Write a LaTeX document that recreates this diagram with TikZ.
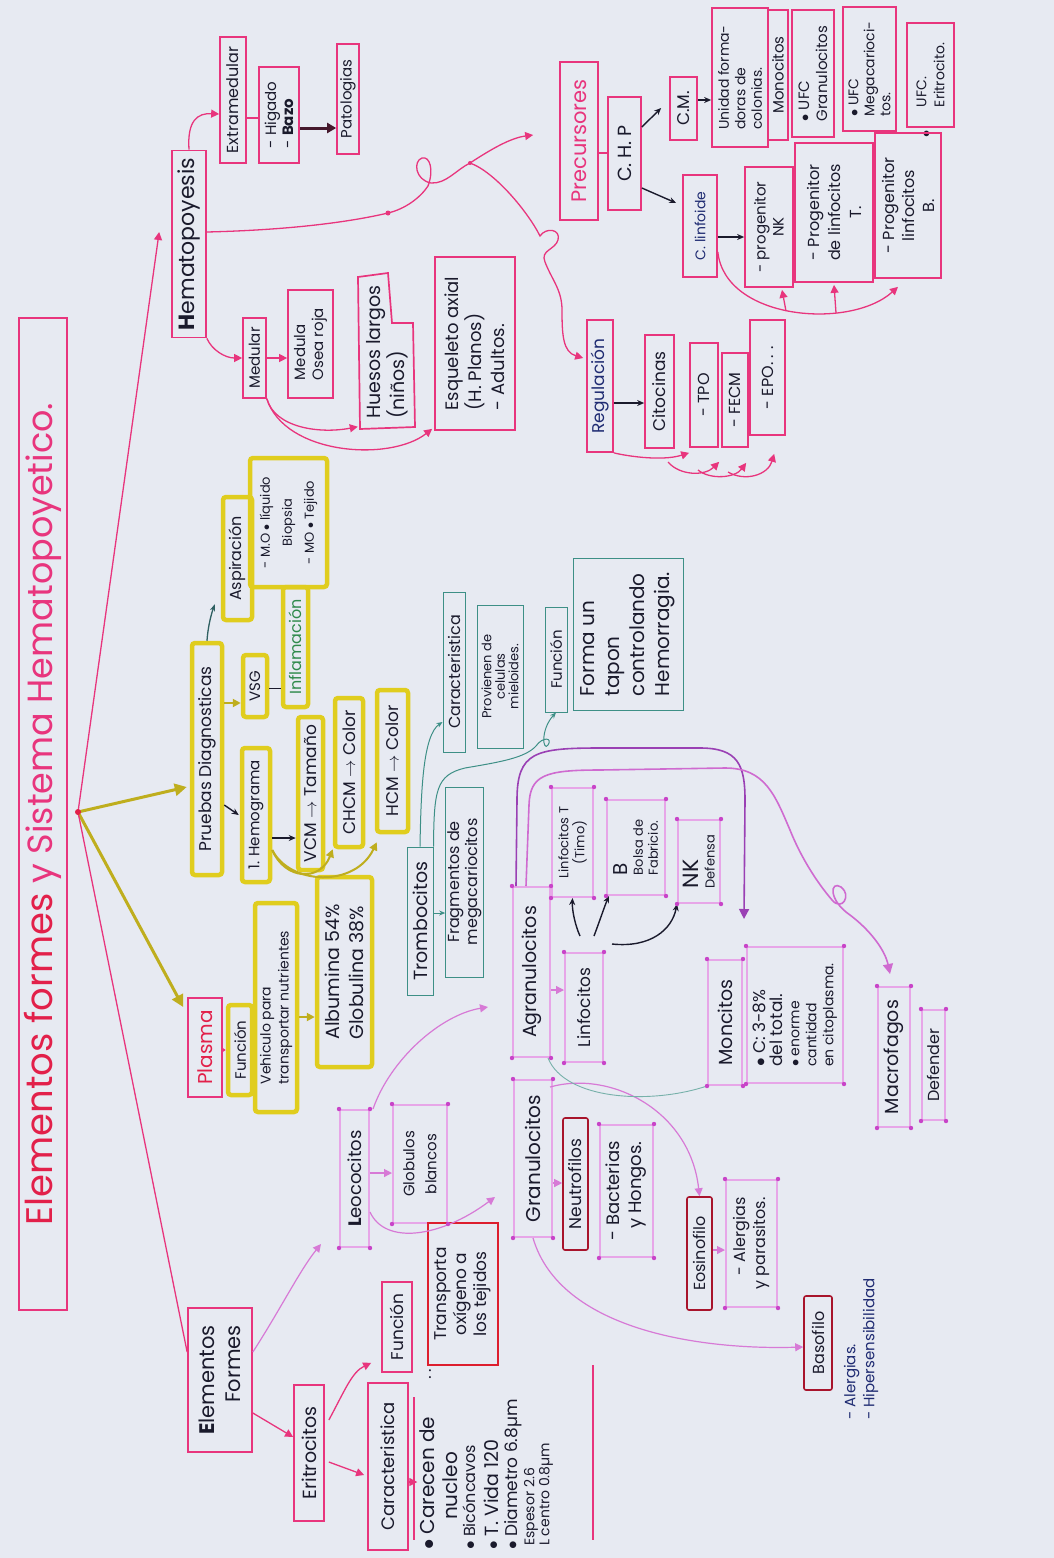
\documentclass[tikz,border=0pt]{standalone}
\usepackage{fontspec}
\setmainfont{Poppins}
\usetikzlibrary{arrows.meta,calc}
\definecolor{bgc}{HTML}{E7EAF2}
\definecolor{pinkc}{HTML}{E8357D}
\definecolor{titred}{HTML}{E2204A}
\definecolor{redc}{HTML}{DD1E2E}
\definecolor{dredc}{HTML}{A8142C}
\definecolor{yelc}{HTML}{E0CD1E}
\definecolor{olivec}{HTML}{BFAE1E}
\definecolor{tealc}{HTML}{3D8F86}
\definecolor{lavc}{HTML}{E7A6E8}
\definecolor{lavd}{HTML}{D77AD6}
\definecolor{dotc}{HTML}{C844C8}
\definecolor{purc}{HTML}{9A40B4}
\definecolor{violc}{HTML}{CF6BD0}
\definecolor{inkc}{HTML}{1A1A2C}
\definecolor{bluec}{HTML}{1F2B72}
\definecolor{greenc}{HTML}{2F8A4C}
\newcommand{\fz}[2]{\fontsize{#1}{#2}\selectfont}
\tikzset{
 every node/.style={rotate=90, text=inkc, inner sep=2pt, align=center, font=\fz{16}{19}},
 sz/.style 2 args={minimum width=#1pt, minimum height=#2pt},
 pbox/.style={draw=pinkc, line width=1.7pt},
 ybox/.style={draw=yelc, line width=4.5pt, rounded corners=3pt},
 tbox/.style={draw=tealc, line width=1pt},
 lbox/.style={draw=lavc, line width=2pt},
 rbox/.style={draw=dredc, line width=1.6pt, rounded corners=2pt},
 linkp/.style={draw=pinkc, line width=1.3pt},
 arrp/.style={linkp, -{Triangle[length=8pt,width=8pt]}},
 arry/.style={draw=olivec, line width=3pt, -{Triangle[length=12pt,width=12pt]}},
 arrys/.style={draw=olivec, line width=2pt, -{Triangle[length=8pt,width=8pt]}},
 arrb/.style={draw=inkc, line width=1.4pt, -{Stealth[length=7pt,width=6pt]}},
 arrt/.style={draw=tealc, line width=1pt, -{Stealth[length=6pt,width=5pt]}},
 arrl/.style={draw=lavd, line width=1.2pt, -{Triangle[length=8pt,width=8pt]}},
 arru/.style={draw=purc, line width=1.6pt, -{Triangle[length=10pt,width=10pt]}},
 arrv/.style={draw=violc, line width=1.6pt, -{Triangle[length=10pt,width=10pt]}},
}
\begin{document}
\begin{tikzpicture}[x=1pt,y=-1pt]
\fill[bgc] (0,0) rectangle (1054,1558);
\useasboundingbox (0,0) rectangle (1054,1558);

% ---------- title ----------
\node[draw=pinkc,line width=1.3pt,sz={992}{48}] (title) at (43,814)
 {{\fz{37}{44}\color{titred}Elementos formes }{\fz{35}{44}\color{pinkc}y Sistema Hematopoyetico.}};
\coordinate (root) at (78,812);

% ---------- Hematopoyesis ----------
\node[pbox,sz={187}{34},font=\fz{22}{26}] (hemato) at (189,244) {\textbf{H}ematopoyesis};
\node[pbox,sz={126}{26},font=\fz{16}{19}] (extra) at (233,100) {Extramedular};
\node[pbox,sz={96}{40},font=\fz{15}{17},align=left] (higado) at (279,115) {- Higado\\- \textbf{Bazo}};
\node[pbox,sz={110}{22},font=\fz{15}{18}] (patol) at (348,99) {Patologias};
\node[pbox,sz={80}{23},font=\fz{15}{18}] (medular) at (254.5,358) {Medular};
\node[pbox,sz={108}{45},font=\fz{15}{18},align=left] (medosea) at (310.5,344) {Medula\\Osea roja};
\node[sz={155}{54},font=\fz{19}{22},align=left] (huesos) at (387,352) {Huesos largos\\(niños)};
\draw[pinkc,line width=1.7pt] (358,277) -- (388,273) -- (392,323) -- (413,323) -- (415,427) -- (360,429) -- cycle;
\node[pbox,sz={173}{80},font=\fz{18}{23},align=left] (esq) at (475,343.5) {Esqueleto axial\\(H. Planos)\\- Adultos.};

% ---------- Precursores ----------
\node[pbox,sz={158}{38},font=\fz{21}{24},text=pinkc] (prec) at (579,141) {Precursores};
\node[pbox,sz={113}{33},font=\fz{19}{22}] (chp) at (624.5,153.5) {C. H. P};
\node[pbox,sz={63}{27},font=\fz{17}{20}] (cmn) at (683.5,108.5) {C.M.};
\node[pbox,sz={139}{56},font=\fz{14}{16.5},align=left] (unidad) at (740,77.5) {Unidad forma-\\doras de\\colonias.};
\node[pbox,sz={130}{20},font=\fz{15}{17}] (monoc) at (778,75) {Monocitos};
\node[pbox,sz={127}{42},font=\fz{15}{18},align=left] (ufcg) at (813,73.5) {$\bullet$ UFC\\Granulocitos};
\node[pbox,sz={124}{53},font=\fz{14}{16},align=left] (ufcm) at (869.5,69) {$\bullet$ UFC\\Megacarioci-\\tos.};
\node[pbox,sz={104}{47},font=\fz{14}{18},align=left] (ufce) at (930.5,75) {UFC.\\Eritrocito.};
\node[font=\fz{15}{18}] (ufcebul) at (927,134) {$\bullet$};
\node[pbox,sz={102}{34},font=\fz{14}{17},text=bluec] (clinf) at (700,226) {C. linfoide};
\node[pbox,sz={120}{48},font=\fz{15}{18}] (progNK) at (769,227) {- progenitor\\NK};
\node[pbox,sz={139}{78},font=\fz{16}{21}] (progT) at (834,212.5) {- Progenitor\\de linfocitos\\T.};
\node[pbox,sz={145}{66},font=\fz{16}{20}] (progB) at (908,205.5) {- Progenitor\\linfocitos\\B.};

% ---------- Regulacion ----------
\node[pbox,sz={132}{26},font=\fz{17}{20},text=bluec] (regul) at (600,386) {Regulación};
\node[pbox,sz={113}{29},font=\fz{17}{20}] (citoc) at (659.5,391.5) {Citocinas};
\node[pbox,sz={104}{28},font=\fz{16}{19}] (tpo) at (704,395) {- TPO};
\node[pbox,sz={94}{26},font=\fz{16}{19}] (fecm) at (735,400) {- FECM};
\node[pbox,sz={115}{35},font=\fz{16}{19}] (epo) at (767.5,377.5) {- EPO. . .};

% ---------- Pruebas ----------
\node[ybox,sz={232}{30},font=\fz{17}{20}] (pruebas) at (207,759) {Pruebas Diagnosticas};
\node[ybox,sz={62}{24},font=\fz{15}{18}] (vsg) at (255,686) {VSG};
\node[ybox,sz={120}{25},font=\fz{16}{19},text=greenc] (infl) at (295.5,647) {Inflamación};
\node[ybox,sz={123}{29},font=\fz{16}{19}] (aspir) at (237.5,558.5) {Aspiración};
\node[ybox,sz={129}{77},font=\fz{13}{22}] (mobox) at (288.5,522.5) {- M.O $\bullet$ líquido\\Biopsia\\- MO $\bullet$ Tejido};
\node[ybox,sz={134}{28},font=\fz{15}{18}] (hemog) at (256,815) {1. Hemograma};
\node[ybox,sz={153}{25},font=\fz{17}{19}] (vcm) at (310.5,793.5) {VCM $\rightarrow$ Tamaño};
\node[ybox,sz={149}{28},font=\fz{17}{19}] (chcm) at (349,772.5) {CHCM $\rightarrow$ Color};
\node[ybox,sz={142}{31},font=\fz{17}{19}] (hcm) at (392.5,761) {HCM $\rightarrow$ Color};

% ---------- Plasma ----------
\node[draw=pinkc,line width=1.7pt,sz={99}{34},font=\fz{20}{23},text=titred] (plasma) at (205,1047.5) {Plasma};
\node[ybox,sz={90}{24},font=\fz{15}{18}] (funcp) at (240,1050) {Función};
\node[ybox,sz={209}{42},font=\fz{14}{18},align=left] (vehic) at (276,1007.5) {Vehiculo para\\transportar nutrientes};
\node[ybox,sz={190}{55},font=\fz{19}{24},align=left] (album) at (344.5,972) {Albumina 54\%\\Globulina 38\%};

% ---------- Trombocitos ----------
\node[tbox,sz={148}{26},font=\fz{19}{22}] (tromb) at (420,921) {Trombocitos};
\node[tbox,sz={190}{35},font=\fz{16}{16}] (fragm) at (464.5,882) {Fragmentos de\\megacariocitos};
\node[tbox,sz={160}{22},font=\fz{16}{18}] (caracT) at (454,672) {Caracteristica};
\node[tbox,sz={143}{46},font=\fz{13}{13.5}] (provien) at (500,676.5) {Provienen de\\celulas\\mieloides.};
\node[tbox,sz={105}{22},font=\fz{15}{18}] (funct) at (556,659.5) {Función};
\node[tbox,sz={152}{110},font=\fz{20}{25},align=left] (forma) at (628,634) {Forma un\\tapon\\controlando\\Hemorragia.};

% ---------- Leucocitos ----------
\node[lbox,sz={137}{29},font=\fz{18}{21}] (leuco) at (354.5,1178.5) {\textbf{L}eococitos};
\node[lbox,sz={118}{54},font=\fz{15}{22}] (globul) at (420,1164) {Globulos\\blancos};
\node[lbox,sz={157}{38},font=\fz{20}{23}] (granul) at (533,1158.5) {Granulocitos};
\node[rbox,sz={132}{25},font=\fz{17}{20}] (neutro) at (575.5,1184) {Neutrofilos};
\node[lbox,sz={132}{53},font=\fz{18}{22},align=right] (bacter) at (626.5,1191) {- Bacterias\\y Hongos.};
\node[rbox,sz={113}{25},font=\fz{16}{19}] (eosino) at (699.5,1253.5) {Eosinofilo};
\node[lbox,sz={127}{51},font=\fz{16}{20},align=right] (alerg) at (751.5,1243.5) {- Alergias\\y parasitos.};
\node[rbox,sz={94}{28},font=\fz{16}{19}] (basof) at (818,1343) {Basofilo};
\node[anchor=west,font=\fz{15}{19},align=left,text=bluec] (basotxt) at (861,1422) {- Alergias.\\- Hipersensibilidad};
\node[lbox,sz={170}{37},font=\fz{19}{22}] (agran) at (531.5,972) {Agranulocitos};
\node[lbox,sz={109}{38},font=\fz{17}{21}] (linfo) at (584,1007.5) {Linfocitos};
\node[lbox,sz={109}{41},font=\fz{13}{16}] (lt) at (572.5,842.5) {Linfocitos T\\(Timo)};
\node[lbox,sz={95}{58},font=\fz{13}{15},align=left] (lb) at (636,847.5) {{\fz{20}{20}B}\\Bolsa de\\Fabricio.};
\node[lbox,sz={83}{42},font=\fz{13}{16},align=left] (lnk) at (699,861.5) {{\fz{22}{22}NK}\\Defensa};
\node[lbox,sz={125}{34},font=\fz{19}{22}] (mono) at (725,1022.5) {Moncitos};
\node[lbox,sz={136}{96},font=\fz{14}{17},align=left] (monoinfo) at (795,1015) {{\fz{17}{19}$\bullet$ C: 3-8\%}\\{\fz{17}{19}del total.}\\$\bullet$ enorme\\cantidad\\en citoplasma.};
\node[lbox,sz={140}{32},font=\fz{19}{22}] (macro) at (894,1057) {Macrofagos};
\node[lbox,sz={110}{23},font=\fz{16}{18}] (defen) at (933.5,1065) {Defender};

% ---------- Elementos formes ----------
\node[pbox,sz={144}{64},font=\fz{21}{26},align=right] (elem) at (220,1380) {\textbf{E}lementos\\Formes};
\node[pbox,sz={136}{30},font=\fz{19}{22}] (eritro) at (309,1453) {Eritrocitos};
\node[pbox,sz={167}{40},font=\fz{18}{22}] (caract) at (388,1466.5) {Caracteristica};
\node[pbox,sz={90}{30},font=\fz{17}{20}] (funce) at (397,1327) {Función};
\node[draw=redc,line width=2.4pt,sz={142}{70},font=\fz{17}{20}] (transp) at (463,1294) {Transporta\\oxígeno a\\los tejidos};
\node[rotate=-90,font=\fz{16}{16}] (colon) at (430,1374) {:};
\node[anchor=west,font=\fz{20}{22}] (l1) at (427,1552) {$\bullet$ Carecen de};
\node[anchor=west,font=\fz{20}{22}] (l2) at (450,1522) {nucleo};
\node[anchor=west,font=\fz{16}{18}] (l3) at (469,1552) {$\bullet$ Bicóncavos};
\node[anchor=west,font=\fz{19}{21}] (l4) at (491,1552) {$\bullet$ T. Vida 120};
\node[anchor=west,font=\fz{17}{19}] (l5) at (513,1552) {$\bullet$ Diametro 6.8µm};
\node[anchor=west,font=\fz{14}{15}] (l6) at (531,1548) {Espesor 2.6};
\node[anchor=west,font=\fz{14}{15}] (l7) at (546,1548) {L centro 0.8µm};
\draw[pinkc,line width=1.4pt] (414,1397) -- (414,1540);
\draw[pinkc,line width=1.4pt] (593,1365) -- (593,1540);

% ---------- connectors from root ----------
\draw[arrp] (root) -- ($(hemato.north |- 0,232)+(-12,0)$);
\draw[arry] (root) -- ($(pruebas.north |- 0,787)+(-3,0)$);
\draw[arry] (root) -- ($(plasma.north |- 0,1007)+(-4,0)$);
\draw[linkp] (root) -- (elem.north |- 0,1352);
\fill[titred] (root) circle (3pt);

% ---------- hematopoyesis connectors ----------
\draw[arrp] (hemato.east) .. controls (187,120) and (198,113) .. (extra.north |- 0,114);
\draw[linkp] (extra.south |- 0,118) -- (higado.north |- 0,118);
\draw[draw=inkc!70!dredc, line width=3pt, -{Triangle[length=9pt,width=10pt]}] (higado.south |- 0,128) -- (patol.north |- 0,128);
\draw[arrp] (hemato.south west) .. controls (212,350) and (225,358) .. (medular.north |- 0,358);
\draw[arrp] (medular.south |- 0,358) -- (medosea.north |- 0,358);
\draw[arrp] (medular.south west) .. controls (275,428) and (320,434) .. ($(huesos.north west)+(-2,-3)$);
\draw[arrp] (medular.south west) .. controls (285,455) and (390,462) .. ($(esq.north west)+(-2,-2)$);
\coordinate (hj) at (470,163);
\draw[linkp] (hemato.south |- 0,232) .. controls (290,230) and (350,222) .. (388,213)
  .. controls (405,209) and (420,198) .. (428,186)
  .. controls (434,170) and (430,156) .. (422,158)
  .. controls (413,161) and (415,180) .. (431,183)
  .. controls (446,184) and (456,170) .. (hj);
\draw[arrp] (hj) .. controls (490,150) and (510,138) .. ($(prec.north |- 0,135)+(-26,0)$);
\draw[arrp] (hj) .. controls (495,172) and (528,212) .. (540,236)
  .. controls (546,227) and (561,229) .. (558,240)
  .. controls (555,250) and (540,250) .. (545,262)
  .. controls (552,280) and (562,290) .. (562,310)
  .. controls (562,335) and (563,352) .. ($(regul.north |- 0,358)+(-3,0)$);
\fill[pinkc] (388,213) circle (2.5pt);
\fill[pinkc] (hj) circle (2pt);

% ---------- precursores connectors ----------
\draw[linkp] (prec.south |- 0,153) -- (chp.north |- 0,153);
\draw[arrb] (chp.south |- 0,127) -- ($(cmn.north |- 0,108)+(-8,0)$);
\draw[arrb] (chp.south |- 0,188) -- ($(clinf.north |- 0,203)+(-6,0)$);
\draw[arrb] (cmn.south |- 0,100) -- (unidad.north |- 0,100);
\draw[arrb] (clinf.south |- 0,237) -- (progNK.north |- 0,237);
\draw[arrp] (clinf.south |- 0,252) .. controls (725,320) and (850,330) .. ($(progB.west)+(-10,8)$);
\coordinate (cv1) at (786,311);
\coordinate (cv2) at (836,313);
\draw[arrp] (cv1) -- ($(progNK.west)+(13,2)$);
\draw[arrp] (cv2) -- ($(progT.west)+(0,2)$);

% ---------- regulacion connectors ----------
\draw[arrb] (regul.south |- 0,403) -- (citoc.north |- 0,403);
\draw[arrp] (regul.south west) .. controls (622,455) and (660,462) .. ($(tpo.north west)+(0,5)$);
\coordinate (rg1) at (668,462);
\coordinate (rg2) at (698,470);
\coordinate (rg3) at (728,472);
\draw[arrp] (rg1) .. controls (680,476) and (705,476) .. ($(fecm.north west)+(-2,14)$);
\draw[arrp] (rg2) .. controls (710,480) and (735,478) .. ($(epo.north west)+(-3,27)$);
\draw[arrp] (rg3) .. controls (745,482) and (768,475) .. ($(epo.north west)+(25,18)$);

% ---------- pruebas connectors ----------
\draw[arrys] (pruebas.south |- 0,703) -- (vsg.north |- 0,703);
\draw[draw=inkc, line width=1pt] (vsg.south |- 0,688) -- (infl.north |- 0,688);
\draw[draw=tealc!60!inkc, line width=1.3pt, -{Stealth[length=7pt]}] (pruebas.east) .. controls (208,625) and (212,612) .. ($(aspir.north west)+(-6,-18)$);
\draw[arrb] (pruebas.south |- 0,805) -- ($(hemog.north |- 0,815)+(-1,0)$);
\draw[arrb] (hemog.south |- 0,838) -- (vcm.north |- 0,838);
\draw[arrys] (hemog.south |- 0,850) .. controls (285,880) and (320,882) .. (chcm.north west);
\draw[arrys] (hemog.south |- 0,850) .. controls (290,885) and (355,888) .. ($(hcm.north west)+(2,8)$);

% ---------- plasma connectors ----------
\draw[linkp, -{Triangle[length=4pt,width=5pt]}] (plasma.south |- 0,1050) -- (funcp.north |- 0,1050);
\draw[arrys] (vehic.south |- 0,1017) -- (album.north |- 0,1017);

% ---------- trombocitos connectors ----------
\draw[arrt] (tromb.south |- 0,913) -- (fragm.north |- 0,913);
\draw[arrt] (tromb.east) .. controls (421,790) and (423,735) .. (caracT.north |- 0,722);
\draw[arrt] (tromb.south east) .. controls (434,790) and (436,775) .. (465,768)
  .. controls (500,762) and (525,758) .. (536,746)
  .. controls (543,736) and (553,738) .. (548,745)
  .. controls (543,752) and (540,730) .. (funct.west);

% ---------- leucocitos connectors ----------
\draw[arrl] (elem.south |- 0,1352) .. controls (280,1310) and (300,1270) .. ($(leuco.north west)+(-18,-4)$);
\draw[arrl] (leuco.south |- 0,1173) -- (globul.north |- 0,1173);
\draw[arrl] (leuco.south |- 0,1212) .. controls (385,1245) and (440,1238) .. ($(granul.north |- 0,1197)+(-18,0)$);
\draw[arrl] ($(leuco.south east)+(3,0)$) .. controls (390,1060) and (440,1015) .. ($(agran.north |- 0,1007)+(-24,0)$);
\draw[arrl] (granul.south |- 0,1183) -- (neutro.north |- 0,1183);
\draw[arrl] ($(granul.south east)+(-3,8)$) .. controls (610,1070) and (690,1110) .. (eosino.east);
\draw[arrl] (eosino.south |- 0,1250) -- (alerg.north |- 0,1250);
\draw[arrl] (granul.west) .. controls (560,1330) and (700,1350) .. (basof.north |- 0,1347);
\draw[arrl] (agran.south |- 0,990) -- (linfo.north |- 0,990);
\draw[arrb] ($(linfo.east)+(-4,-16)$) .. controls (575,925) and (572,910) .. (lt.west);
\draw[arrb] ($(linfo.east)+(10,-16)$) .. controls (600,920) and (605,905) .. ($(lb.north west)+(3,0)$);
\draw[arrb] ($(linfo.east)+(28,-8)$) .. controls (650,948) and (672,930) .. (lnk.north west);
\draw[arru] ($(agran.north east)+(4,0)$) -- (517,800) .. controls (517,752) and (535,748) .. (600,748)
  -- (700,748) .. controls (738,748) and (745,765) .. (745,800) -- ($(mono.south east)+(1,-40)$);
\draw[arrv] ($(agran.north east)+(14,0)$) -- (529,805) .. controls (530,775) and (545,770) .. (600,770)
  -- (725,768) .. controls (765,768) and (775,795) .. (790,830)
  .. controls (800,855) and (815,880) .. (832,900)
  .. controls (842,912) and (852,895) .. (841,887)
  .. controls (830,880) and (828,900) .. (850,915)
  .. controls (870,930) and (885,950) .. ($(macro.east)+(-4,-12)$);
\draw[draw=tealc!70, line width=0.9pt] ($(agran.south west)+(-3,0)$) .. controls (565,1100) and (650,1105) .. (mono.north west);

% ---------- eritrocitos connectors ----------
\draw[arrp] (elem.south |- 0,1413) -- (eritro.north |- 0,1437);
\draw[arrp] ($(eritro.south |- 0,1420)+(4,0)$) .. controls (345,1390) and (352,1372) .. ($(funce.north west)+(-10,-10)$);
\draw[arrp] ($(eritro.south |- 0,1462)+(4,0)$) -- ($(caract.north |- 0,1475)+(-3,0)$);
\draw[arrp] (caract.south |- 0,1482) -- (l1.north |- 0,1482);

% ---------- corner dots on lavender boxes ----------
\foreach \n in {leuco,globul,granul,bacter,alerg,agran,linfo,lt,lb,lnk,mono,monoinfo,macro,defen}{
  \fill[dotc] (\n.north west) circle (2.2pt) (\n.north east) circle (2.2pt)
              (\n.south west) circle (2.2pt) (\n.south east) circle (2.2pt);
}
\end{tikzpicture}
\end{document}
